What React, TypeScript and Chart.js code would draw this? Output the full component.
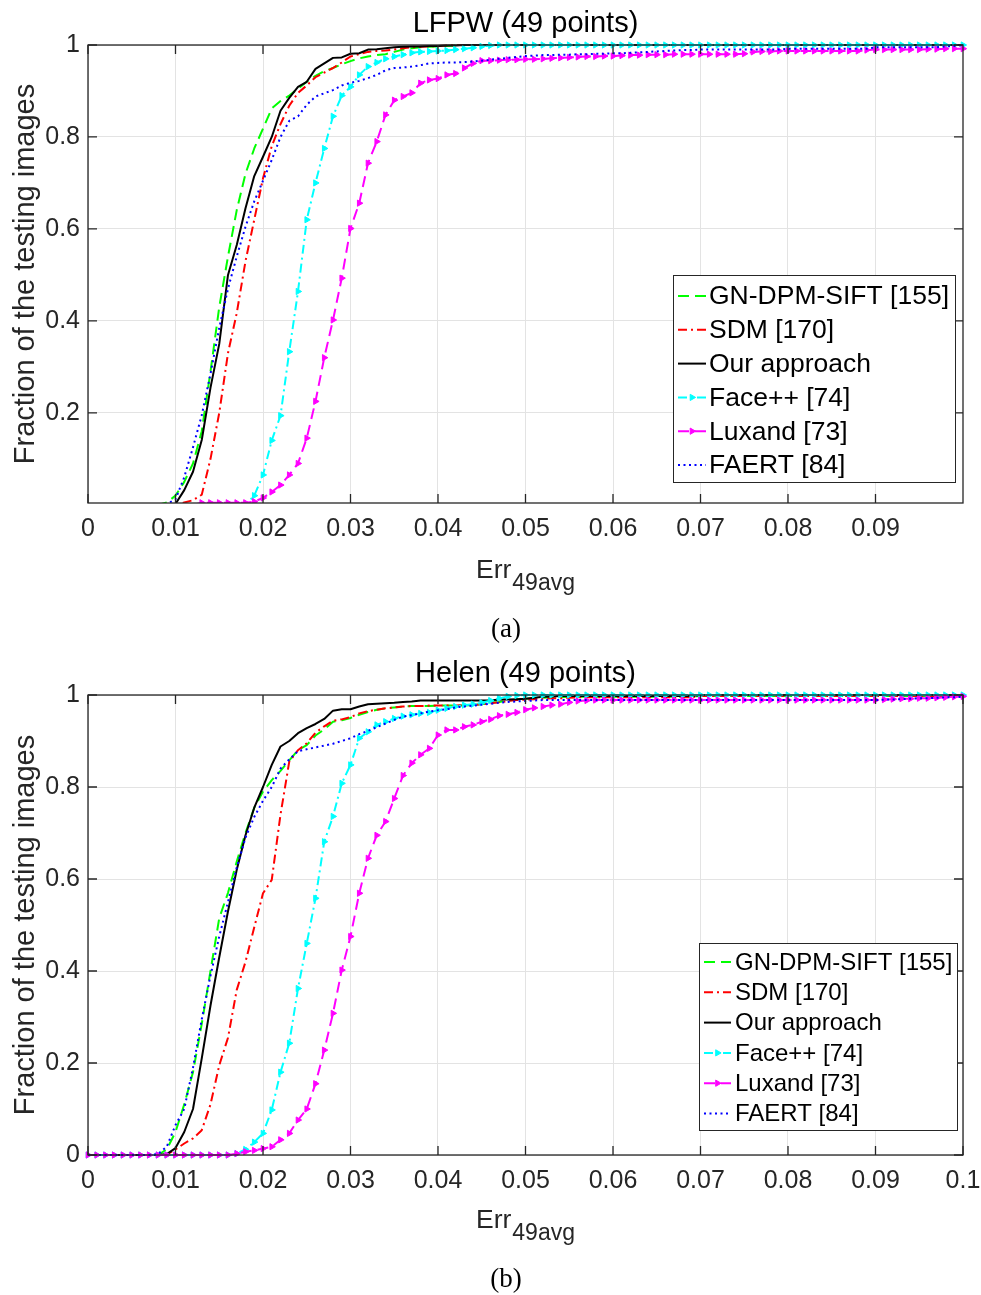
import React, { useEffect, useRef } from "react";
import { Chart, registerables } from "chart.js";

Chart.register(...registerables);

// ---------- data ----------
const ERR_THRESHOLDS = [
  0, 0.001, 0.002, 0.003, 0.004, 0.005, 0.006, 0.007, 0.008, 0.009,
  0.01, 0.011, 0.012, 0.013, 0.014, 0.015, 0.016, 0.017, 0.018, 0.019,
  0.02, 0.021, 0.022, 0.023, 0.024, 0.025, 0.026, 0.027, 0.028, 0.029,
  0.03, 0.031, 0.032, 0.033, 0.034, 0.035, 0.036, 0.037, 0.038, 0.039,
  0.04, 0.041, 0.042, 0.043, 0.044, 0.045, 0.046, 0.047, 0.048, 0.049,
  0.05, 0.051, 0.052, 0.053, 0.054, 0.055, 0.056, 0.057, 0.058, 0.059,
  0.06, 0.061, 0.062, 0.063, 0.064, 0.065, 0.066, 0.067, 0.068, 0.069,
  0.07, 0.071, 0.072, 0.073, 0.074, 0.075, 0.076, 0.077, 0.078, 0.079,
  0.08, 0.081, 0.082, 0.083, 0.084, 0.085, 0.086, 0.087, 0.088, 0.089,
  0.09, 0.091, 0.092, 0.093, 0.094, 0.095, 0.096, 0.097, 0.098, 0.099,
  0.1,
];

const SERIES_NAMES = [
  "GN-DPM-SIFT [155]",
  "SDM [170]",
  "Our approach",
  "Face++ [74]",
  "Luxand [73]",
  "FAERT [84]",
];

const X_TICKS_A = [0, 0.01, 0.02, 0.03, 0.04, 0.05, 0.06, 0.07, 0.08, 0.09];
const X_TICKS_B = [0, 0.01, 0.02, 0.03, 0.04, 0.05, 0.06, 0.07, 0.08, 0.09, 0.1];
const Y_TICKS_A = [0.2, 0.4, 0.6, 0.8, 1];
const Y_TICKS_B = [0, 0.2, 0.4, 0.6, 0.8, 1];

// LFPW (49 points)
const LFPW_GN_DPM_SIFT = [
  0, 0, 0, 0, 0, 0, 0, 0, 0, 0.005,
  0.02, 0.05, 0.09, 0.16, 0.29, 0.43, 0.54, 0.641, 0.72, 0.775,
  0.818, 0.862, 0.878, 0.89, 0.905, 0.92, 0.933, 0.943, 0.95, 0.958,
  0.965, 0.971, 0.975, 0.978, 0.98, 0.985, 0.99, 0.993, 0.995, 0.996,
  0.997, 0.998, 0.999, 1, 1, 1, 1, 1, 1, 1,
  1, 1, 1, 1, 1, 1, 1, 1, 1, 1,
  1, 1, 1, 1, 1, 1, 1, 1, 1, 1,
  1, 1, 1, 1, 1, 1, 1, 1, 1, 1,
  1, 1, 1, 1, 1, 1, 1, 1, 1, 1,
  1, 1, 1, 1, 1, 1, 1, 1, 1, 1,
  1,
];
const LFPW_SDM = [
  0, 0, 0, 0, 0, 0, 0, 0, 0, 0,
  0, 0.005, 0.01, 0.022, 0.1, 0.2, 0.33, 0.417, 0.53, 0.62,
  0.71, 0.78, 0.828, 0.868, 0.896, 0.912, 0.93, 0.94, 0.95, 0.962,
  0.975, 0.98, 0.985, 0.987, 0.988, 0.99, 0.993, 0.995, 0.996, 0.997,
  0.998, 0.999, 1, 1, 1, 1, 1, 1, 1, 1,
  1, 1, 1, 1, 1, 1, 1, 1, 1, 1,
  1, 1, 1, 1, 1, 1, 1, 1, 1, 1,
  1, 1, 1, 1, 1, 1, 1, 1, 1, 1,
  1, 1, 1, 1, 1, 1, 1, 1, 1, 1,
  1, 1, 1, 1, 1, 1, 1, 1, 1, 1,
  1,
];
const LFPW_OURS = [
  0, 0, 0, 0, 0, 0, 0, 0, 0, 0,
  0.002, 0.032, 0.072, 0.141, 0.255, 0.35, 0.5, 0.565, 0.645, 0.715,
  0.757, 0.8, 0.857, 0.885, 0.909, 0.92, 0.948, 0.96, 0.972, 0.973,
  0.981, 0.982, 0.99, 0.991, 0.993, 0.995, 0.996, 0.997, 0.997, 0.998,
  0.998, 0.999, 0.999, 1, 1, 1, 1, 1, 1, 1,
  1, 1, 1, 1, 1, 1, 1, 1, 1, 1,
  1, 1, 1, 1, 1, 1, 1, 1, 1, 1,
  1, 1, 1, 1, 1, 1, 1, 1, 1, 1,
  1, 1, 1, 1, 1, 1, 1, 1, 1, 1,
  1, 1, 1, 1, 1, 1, 1, 1, 1, 1,
  1,
];
const LFPW_FACEPP = [
  0, 0, 0, 0, 0, 0, 0, 0, 0, 0,
  0, 0, 0, 0, 0, 0, 0, 0, 0, 0.02,
  0.065, 0.14, 0.194, 0.333, 0.464, 0.62, 0.7, 0.775, 0.845, 0.89,
  0.909, 0.935, 0.953, 0.962, 0.97, 0.975, 0.979, 0.983, 0.985, 0.986,
  0.987, 0.988, 0.99, 0.992, 0.994, 0.997, 0.999, 1, 1, 1,
  1, 1, 1, 1, 1, 1, 1, 1, 1, 1,
  1, 1, 1, 1, 1, 1, 1, 1, 1, 1,
  1, 1, 1, 1, 1, 1, 1, 1, 1, 1,
  1, 1, 1, 1, 1, 1, 1, 1, 1, 1,
  1, 1, 1, 1, 1, 1, 1, 1, 1, 1,
  1,
];
const LFPW_LUXAND = [
  0, 0, 0, 0, 0, 0, 0, 0, 0, 0,
  0, 0, 0, 0.0045, 0.0045, 0.0045, 0.0045, 0.0045, 0.0045, 0.007,
  0.015, 0.028, 0.043, 0.065, 0.09, 0.145, 0.225, 0.32, 0.402, 0.493,
  0.601, 0.656, 0.743, 0.79, 0.848, 0.88, 0.888, 0.896, 0.917, 0.924,
  0.927, 0.935, 0.938, 0.95, 0.96, 0.966, 0.966, 0.967, 0.968, 0.968,
  0.969, 0.969, 0.97, 0.971, 0.972, 0.973, 0.974, 0.975, 0.975, 0.976,
  0.976, 0.977, 0.978, 0.978, 0.979, 0.979, 0.979, 0.98, 0.98, 0.98,
  0.98, 0.98, 0.98, 0.98, 0.98, 0.981, 0.985, 0.986, 0.986, 0.987,
  0.987, 0.987, 0.987, 0.987, 0.987, 0.987, 0.987, 0.987, 0.987, 0.989,
  0.99, 0.99, 0.99, 0.99, 0.99, 0.99, 0.991, 0.991, 0.992, 0.992,
  0.992,
];
const LFPW_FAERT = [
  0, 0, 0, 0, 0, 0, 0, 0, 0, 0.002,
  0.012, 0.06, 0.125, 0.195, 0.285, 0.385, 0.47, 0.54, 0.605, 0.66,
  0.705, 0.75, 0.8, 0.835, 0.845, 0.87, 0.888, 0.895, 0.902, 0.912,
  0.918, 0.922, 0.928, 0.935, 0.945, 0.95, 0.951, 0.953, 0.956, 0.96,
  0.961, 0.962, 0.962, 0.963, 0.964, 0.966, 0.968, 0.97, 0.972, 0.974,
  0.976, 0.977, 0.978, 0.978, 0.979, 0.979, 0.98, 0.98, 0.981, 0.981,
  0.982, 0.982, 0.983, 0.984, 0.985, 0.986, 0.987, 0.988, 0.989, 0.989,
  0.99, 0.99, 0.99, 0.99, 0.99, 0.99, 0.99, 0.99, 0.99, 0.99,
  0.992, 0.992, 0.992, 0.992, 0.992, 0.992, 0.992, 0.992, 0.992, 0.992,
  0.995, 0.995, 0.995, 0.995, 0.995, 0.995, 0.995, 0.995, 0.997, 0.998,
  1,
];

// Helen (49 points)
const HELEN_GN_DPM_SIFT = [
  0, 0, 0, 0, 0, 0, 0, 0, 0, 0.012,
  0.05, 0.11, 0.18, 0.285, 0.4, 0.515, 0.57, 0.638, 0.7, 0.755,
  0.79, 0.815, 0.835, 0.858, 0.88, 0.891, 0.912, 0.925, 0.942, 0.945,
  0.95, 0.957, 0.963, 0.968, 0.971, 0.973, 0.975, 0.976, 0.976, 0.976,
  0.977, 0.977, 0.977, 0.977, 0.978, 0.98, 0.983, 0.985, 0.988, 0.99,
  0.992, 0.993, 0.994, 0.995, 0.995, 0.996, 0.996, 0.996, 0.996, 0.996,
  0.996, 0.996, 0.996, 0.996, 0.996, 0.996, 0.996, 0.996, 0.996, 0.996,
  0.998, 0.998, 0.998, 0.998, 0.998, 0.998, 0.998, 0.998, 0.998, 0.998,
  0.998, 0.998, 0.998, 0.998, 0.998, 0.998, 0.998, 0.998, 0.998, 0.998,
  0.998, 0.998, 0.998, 0.998, 0.998, 0.998, 0.998, 0.998, 0.998, 0.998,
  0.998,
];
const HELEN_SDM = [
  0, 0, 0, 0, 0, 0, 0, 0, 0, 0.001,
  0.012, 0.025, 0.036, 0.054, 0.11, 0.195, 0.255, 0.359, 0.42, 0.495,
  0.569, 0.598, 0.74, 0.855, 0.88, 0.895, 0.918, 0.932, 0.944, 0.947,
  0.952, 0.96, 0.965, 0.968, 0.971, 0.973, 0.975, 0.976, 0.976, 0.977,
  0.977, 0.977, 0.977, 0.978, 0.978, 0.98, 0.982, 0.984, 0.987, 0.989,
  0.99, 0.991, 0.992, 0.993, 0.993, 0.994, 0.995, 0.995, 0.995, 0.995,
  0.995, 0.995, 0.995, 0.995, 0.995, 0.995, 0.995, 0.995, 0.995, 0.995,
  0.998, 0.998, 0.998, 0.998, 0.998, 0.998, 0.998, 0.998, 0.998, 0.998,
  0.998, 0.998, 0.998, 0.998, 0.998, 0.998, 0.998, 0.998, 0.998, 0.998,
  0.998, 0.998, 0.998, 0.998, 0.998, 0.998, 0.998, 0.998, 0.998, 0.998,
  0.998,
];
const HELEN_OURS = [
  0, 0, 0, 0, 0, 0, 0, 0, 0, 0.002,
  0.015, 0.05, 0.1, 0.21, 0.325, 0.43, 0.53, 0.62, 0.695, 0.755,
  0.8, 0.848, 0.888, 0.9, 0.917, 0.928, 0.937, 0.948, 0.966, 0.969,
  0.969, 0.975, 0.98, 0.981, 0.982, 0.983, 0.985, 0.986, 0.988, 0.988,
  0.988, 0.988, 0.988, 0.988, 0.988, 0.988, 0.988, 0.99, 0.99, 0.991,
  0.992, 0.994, 0.996, 0.997, 0.998, 0.998, 0.998, 0.998, 0.998, 0.998,
  0.998, 0.998, 0.998, 0.998, 0.998, 0.998, 0.998, 0.998, 0.998, 0.998,
  1, 1, 1, 1, 1, 1, 1, 1, 1, 1,
  1, 1, 1, 1, 1, 1, 1, 1, 1, 1,
  1, 1, 1, 1, 1, 1, 1, 1, 1, 1,
  1,
];
const HELEN_FACEPP = [
  0, 0, 0, 0, 0, 0, 0, 0, 0, 0,
  0, 0, 0, 0, 0, 0, 0, 0.003, 0.012, 0.028,
  0.047, 0.098, 0.18, 0.243, 0.362, 0.46, 0.558, 0.681, 0.736, 0.808,
  0.848, 0.906, 0.92, 0.935, 0.942, 0.949, 0.954, 0.957, 0.96, 0.962,
  0.967, 0.971, 0.975, 0.978, 0.98, 0.983, 0.988, 0.993, 0.997, 0.999,
  1, 1, 1, 1, 1, 1, 1, 1, 1, 1,
  1, 1, 1, 1, 1, 1, 1, 1, 1, 1,
  1, 1, 1, 1, 1, 1, 1, 1, 1, 1,
  1, 1, 1, 1, 1, 1, 1, 1, 1, 1,
  1, 1, 1, 1, 1, 1, 1, 1, 1, 1,
  1,
];
const HELEN_LUXAND = [
  0, 0, 0, 0, 0, 0, 0, 0, 0, 0,
  0, 0, 0, 0, 0, 0, 0, 0.003, 0.007, 0.01,
  0.014, 0.018, 0.033, 0.047, 0.076, 0.1, 0.155, 0.228, 0.308, 0.402,
  0.475, 0.569, 0.645, 0.695, 0.725, 0.775, 0.825, 0.852, 0.87, 0.884,
  0.913, 0.924, 0.924, 0.931, 0.935, 0.942, 0.947, 0.955, 0.958, 0.962,
  0.968, 0.972, 0.975, 0.978, 0.98, 0.984, 0.987, 0.988, 0.989, 0.989,
  0.989, 0.989, 0.989, 0.989, 0.989, 0.989, 0.989, 0.989, 0.989, 0.989,
  0.989, 0.989, 0.989, 0.989, 0.989, 0.989, 0.989, 0.989, 0.989, 0.989,
  0.989, 0.989, 0.989, 0.989, 0.989, 0.989, 0.989, 0.989, 0.989, 0.989,
  0.989, 0.99, 0.991, 0.992, 0.992, 0.993, 0.993, 0.994, 0.995, 0.996,
  0.997,
];
const HELEN_FAERT = [
  0, 0, 0, 0, 0, 0, 0, 0, 0.002, 0.018,
  0.065, 0.1, 0.19, 0.295, 0.39, 0.475, 0.55, 0.625, 0.69, 0.735,
  0.77, 0.8, 0.84, 0.86, 0.878, 0.882, 0.886, 0.89, 0.894, 0.9,
  0.906, 0.915, 0.922, 0.93, 0.938, 0.946, 0.953, 0.956, 0.96, 0.964,
  0.967, 0.969, 0.973, 0.975, 0.977, 0.979, 0.981, 0.983, 0.985, 0.986,
  0.987, 0.988, 0.989, 0.989, 0.989, 0.989, 0.989, 0.989, 0.989, 0.989,
  0.989, 0.989, 0.989, 0.989, 0.989, 0.989, 0.989, 0.989, 0.989, 0.989,
  0.989, 0.989, 0.989, 0.989, 0.989, 0.989, 0.989, 0.989, 0.989, 0.989,
  0.989, 0.989, 0.989, 0.989, 0.989, 0.989, 0.989, 0.989, 0.989, 0.989,
  0.989, 0.99, 0.99, 0.991, 0.992, 0.993, 0.993, 0.994, 0.995, 0.995,
  0.996,
];

// ---------- styles ----------
const SANS = '"Liberation Sans", Arial, Helvetica, sans-serif';
const SERIF = '"Liberation Serif", "Times New Roman", serif';
const AXIS_COLOR = "#262626";
const GRID_COLOR = "#e3e3e3";
const TICK_LEN = 9;
const MARKER_R = 3.6;

const SERIES_STYLES = [
  { color: "#00ff00", dash: [11, 6], marker: false },
  { color: "#ff0000", dash: [9, 4, 2, 4], marker: false },
  { color: "#000000", dash: [], marker: false },
  { color: "#00ffff", dash: [9, 4, 2, 4], marker: true },
  { color: "#ff00ff", dash: [11, 6], marker: true },
  { color: "#0000ff", dash: [2, 3.5], marker: false },
];

const PANEL_A = {
  title: "LFPW (49 points)",
  caption: "(a)",
  series: [LFPW_GN_DPM_SIFT, LFPW_SDM, LFPW_OURS, LFPW_FACEPP, LFPW_LUXAND, LFPW_FAERT],
  xTicks: X_TICKS_A,
  yTicks: Y_TICKS_A,
  yMin: 0.004,
  canvasTop: 0,
  height: 650,
  plotBottom: 503,
  clip: { left: 6, top: 6, right: 6, bottom: 0 },
  legend: { left: 673, top: 275, right: 955, bottom: 482, rowTop: 296, rowStep: 33.8, sx0: 678, sx1: 706, textX: 709, fontSize: 26.5 },
};

const PANEL_B = {
  title: "Helen (49 points)",
  caption: "(b)",
  series: [HELEN_GN_DPM_SIFT, HELEN_SDM, HELEN_OURS, HELEN_FACEPP, HELEN_LUXAND, HELEN_FAERT],
  xTicks: X_TICKS_B,
  yTicks: Y_TICKS_B,
  yMin: 0,
  canvasTop: 650,
  height: 645,
  plotBottom: 505,
  clip: { left: 6, top: 6, right: 6, bottom: 6 },
  legend: { left: 699, top: 293, right: 957, bottom: 480, rowTop: 312, rowStep: 30.3, sx0: 704, sx1: 731, textX: 735, fontSize: 24 },
};

function fmtTick(v: number) {
  return String(+Number(v).toFixed(3));
}

function drawTriangleRight(ctx: any, x: number, y: number, r: number, color: string) {
  ctx.beginPath();
  ctx.moveTo(x + r, y);
  ctx.lineTo(x - r / 2, y - (r * Math.sqrt(3)) / 2);
  ctx.lineTo(x - r / 2, y + (r * Math.sqrt(3)) / 2);
  ctx.closePath();
  ctx.fillStyle = color;
  ctx.fill();
  ctx.lineWidth = 1;
  ctx.strokeStyle = color;
  ctx.stroke();
}

function makeDecor(panel: any) {
  return {
    id: "matlabDecor",
    afterDraw(chart: any) {
      const { ctx, chartArea } = chart;
      const { left, right, top, bottom } = chartArea;
      const xs = chart.scales.x;
      const ys = chart.scales.y;
      ctx.save();
      ctx.setLineDash([]);

      // axes box + inward ticks
      ctx.strokeStyle = AXIS_COLOR;
      ctx.lineWidth = 1.3;
      ctx.strokeRect(left, top, right - left, bottom - top);
      ctx.beginPath();
      for (const v of panel.xTicks) {
        const px = xs.getPixelForValue(v);
        ctx.moveTo(px, bottom);
        ctx.lineTo(px, bottom - TICK_LEN);
        ctx.moveTo(px, top);
        ctx.lineTo(px, top + TICK_LEN);
      }
      for (const v of panel.yTicks) {
        const py = ys.getPixelForValue(v);
        ctx.moveTo(left, py);
        ctx.lineTo(left + TICK_LEN, py);
        ctx.moveTo(right, py);
        ctx.lineTo(right - TICK_LEN, py);
      }
      ctx.stroke();

      const cx = (left + right) / 2;

      // title
      ctx.fillStyle = "#000";
      ctx.font = `29px ${SANS}`;
      ctx.textAlign = "center";
      ctx.textBaseline = "alphabetic";
      ctx.fillText(panel.title, cx, 32);

      // x label with subscript
      ctx.fillStyle = AXIS_COLOR;
      ctx.font = `26.5px ${SANS}`;
      const wMain = ctx.measureText("Err").width;
      ctx.font = `23px ${SANS}`;
      const wSub = ctx.measureText("49avg").width;
      const x0 = cx - (wMain + wSub + 1) / 2;
      ctx.textAlign = "left";
      ctx.font = `26.5px ${SANS}`;
      ctx.fillText("Err", x0, 578);
      ctx.font = `23px ${SANS}`;
      ctx.fillText("49avg", x0 + wMain + 1, 590);

      // y label
      ctx.save();
      ctx.translate(34, (top + bottom) / 2);
      ctx.rotate(-Math.PI / 2);
      ctx.textAlign = "center";
      ctx.font = `29px ${SANS}`;
      ctx.fillText("Fraction of the testing images", 0, 0);
      ctx.restore();

      // caption
      ctx.fillStyle = "#000";
      ctx.font = `27px ${SERIF}`;
      ctx.textAlign = "center";
      ctx.fillText(panel.caption, 506, 637);

      // legend
      const L = panel.legend;
      ctx.fillStyle = "#ffffff";
      ctx.fillRect(L.left, L.top, L.right - L.left, L.bottom - L.top);
      ctx.strokeStyle = AXIS_COLOR;
      ctx.lineWidth = 1;
      ctx.strokeRect(L.left + 0.5, L.top + 0.5, L.right - L.left, L.bottom - L.top);
      SERIES_NAMES.forEach((name, i) => {
        const y = L.rowTop + i * L.rowStep;
        const st = SERIES_STYLES[i];
        ctx.strokeStyle = st.color;
        ctx.lineWidth = 2;
        ctx.setLineDash(st.dash);
        ctx.beginPath();
        ctx.moveTo(L.sx0, y);
        ctx.lineTo(L.sx1, y);
        ctx.stroke();
        ctx.setLineDash([]);
        if (st.marker) drawTriangleRight(ctx, (L.sx0 + L.sx1) / 2, y, MARKER_R, st.color);
        ctx.fillStyle = "#000";
        ctx.font = `${L.fontSize}px ${SANS}`;
        ctx.textAlign = "left";
        ctx.textBaseline = "middle";
        ctx.fillText(name, L.textX, y + 1);
      });

      ctx.restore();
    },
  };
}

function buildConfig(panel: any) {
  const datasets = panel.series.map((vals: number[], i: number) => {
    const st = SERIES_STYLES[i];
    return {
      label: SERIES_NAMES[i],
      data: ERR_THRESHOLDS.map((x, j) => ({ x, y: vals[j] })),
      borderColor: st.color,
      backgroundColor: st.color,
      borderWidth: 2,
      borderDash: st.dash,
      borderJoinStyle: "round",
      pointStyle: "triangle",
      pointRotation: 90,
      pointRadius: st.marker
        ? (c: any) => (c.raw && c.raw.y < panel.yMin ? 0 : MARKER_R)
        : 0,
      pointHoverRadius: 0,
      pointBorderWidth: 1,
      pointBorderColor: st.color,
      pointBackgroundColor: st.color,
      tension: 0,
      fill: false,
      clip: panel.clip,
      order: SERIES_NAMES.length - i,
    };
  });

  const tickFont = { family: SANS, size: 25 };

  return {
    type: "line",
    data: { datasets },
    plugins: [makeDecor(panel)],
    options: {
      animation: false,
      responsive: false,
      devicePixelRatio: 1,
      events: [],
      layout: { padding: { left: 0, right: 18, top: 45, bottom: 0 } },
      plugins: {
        legend: { display: false },
        tooltip: { enabled: false },
        title: { display: false },
      },
      scales: {
        x: {
          type: "linear",
          min: 0,
          max: 0.1,
          afterBuildTicks: (s: any) => {
            s.ticks = panel.xTicks.map((v: number) => ({ value: v }));
          },
          afterFit: (s: any) => {
            s.height = panel.height - panel.plotBottom;
            s.paddingLeft = 0;
            s.paddingRight = 0;
          },
          ticks: {
            callback: (v: any) => fmtTick(v),
            font: tickFont,
            color: AXIS_COLOR,
            padding: 11,
            autoSkip: false,
            maxRotation: 0,
            minRotation: 0,
          },
          grid: { color: GRID_COLOR, lineWidth: 1, drawTicks: false },
          border: { display: false },
        },
        y: {
          type: "linear",
          min: panel.yMin,
          max: 1,
          afterBuildTicks: (s: any) => {
            s.ticks = panel.yTicks.map((v: number) => ({ value: v }));
          },
          afterFit: (s: any) => {
            s.width = 88;
            s.paddingTop = 0;
            s.paddingBottom = 0;
          },
          ticks: {
            callback: (v: any) => fmtTick(v),
            font: tickFont,
            color: AXIS_COLOR,
            padding: 8,
            autoSkip: false,
          },
          grid: { color: GRID_COLOR, lineWidth: 1, drawTicks: false },
          border: { display: false },
        },
      },
    },
  };
}

function Panel({ panel }: { panel: any }) {
  const ref = useRef<HTMLCanvasElement | null>(null);
  useEffect(() => {
    if (!ref.current) return;
    const chart = new Chart(ref.current, buildConfig(panel) as any);
    return () => chart.destroy();
  }, [panel]);
  return (
    <canvas
      ref={ref}
      width={981}
      height={panel.height}
      style={{
        position: "absolute",
        left: 0,
        top: panel.canvasTop,
        width: 981,
        height: panel.height,
        display: "block",
      }}
    />
  );
}

export default function App() {
  return (
    <div style={{ position: "absolute", left: 0, top: 0, width: 981, height: 1295, background: "#fff" }}>
      <Panel panel={PANEL_A} />
      <Panel panel={PANEL_B} />
    </div>
  );
}
